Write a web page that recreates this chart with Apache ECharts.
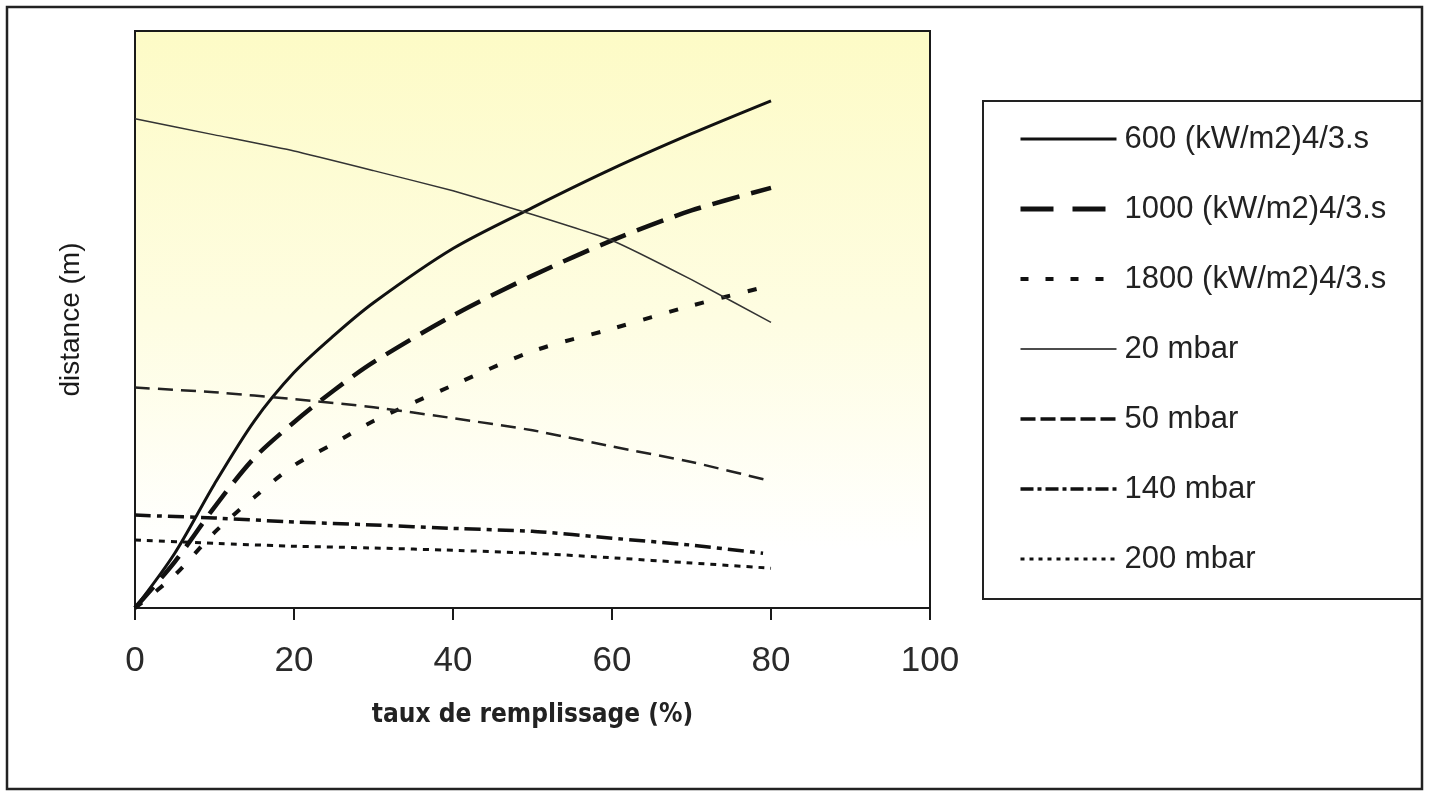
<!DOCTYPE html>
<html>
<head>
<meta charset="utf-8">
<script src="https://cdn.jsdelivr.net/npm/echarts@6/dist/echarts.min.js"></script>
<style>
html,body{margin:0;padding:0;background:#fff;}
#chart{width:1429px;height:792px;}
</style>
</head>
<body>
<div id="chart"></div>
<script>
// ---- data ----
const xRise = [0, 5, 10, 15, 20, 25, 30, 40, 50, 60, 70, 80];
const s600  = [0, 9.5, 21.5, 32.4, 40.8, 47.2, 52.9, 62.3, 69.4, 76.1, 82.2, 87.9];
const s1000 = [0, 8.0, 17.5, 26.0, 32.2, 37.7, 42.6, 50.7, 57.6, 63.7, 68.9, 72.8];
const s1800 = [0, 5.7, 13.1, 19.2, 24.7, 28.5, 32.4, 38.6, 44.5, 48.4, 52.4, 55.9];

const xPress = [0, 10, 20, 30, 40, 50, 60, 70, 80];
const p20  = [84.8, 82.0, 79.2, 75.8, 72.3, 68.2, 63.7, 56.9, 49.5];
const p50  = [38.2, 37.4, 36.2, 34.8, 32.9, 30.8, 28.0, 25.3, 22.0];
const x140 = [0, 10, 20, 30, 40, 50, 60, 70, 79];
const p140 = [16.1, 15.6, 14.9, 14.4, 13.8, 13.3, 12.1, 10.9, 9.5];
const p200 = [11.8, 11.2, 10.7, 10.4, 10.0, 9.5, 8.7, 7.8, 6.9];

const seriesNames = ['600 (kW/m2)4/3.s', '1000 (kW/m2)4/3.s', '1800 (kW/m2)4/3.s',
                     '20 mbar', '50 mbar', '140 mbar', '200 mbar'];
const xTicks = [0, 20, 40, 60, 80, 100];

function pairs(xs, ys) { return xs.map((x, i) => [x, ys[i]]); }

const chart = echarts.init(document.getElementById('chart'));
const FONT = '"Liberation Sans", Arial, sans-serif';
const NARROW = '"Liberation Sans Narrow", "DejaVu Sans Condensed", "Liberation Sans", sans-serif';

function mk(name, xs, ys, width, type, color, smooth) {
  return {
    name: name, type: 'line', data: pairs(xs, ys), showSymbol: false, symbol: 'none',
    smooth: smooth, silent: true, animation: false,
    lineStyle: { color: color, width: width, type: type, cap: 'butt' },
    itemStyle: { color: color }
  };
}

// legend key styles (as drawn in the key box)
const legendStyles = [
  { width: 3, type: 'solid' },
  { width: 5, type: [33, 19] },
  { width: 4, type: [8, 17] },
  { width: 1.5, type: 'solid' },
  { width: 3.5, type: [15, 5] },
  { width: 3.5, type: [13, 4, 4, 4] },
  { width: 3, type: [4, 5] }
];

chart.setOption({
  backgroundColor: '#ffffff',
  animation: false,
  grid: {
    left: 135, top: 31, right: 499, bottom: 184,
    show: true, borderColor: '#1a1a1a', borderWidth: 2,
    backgroundColor: {
      type: 'linear', x: 0, y: 0, x2: 0, y2: 1,
      colorStops: [
        { offset: 0, color: '#fdfbc6' },
        { offset: 0.5, color: '#fefde2' },
        { offset: 0.9, color: '#ffffff' },
        { offset: 1, color: '#ffffff' }
      ]
    }
  },
  xAxis: {
    type: 'value', min: 0, max: 100, interval: 20,
    axisLine: { show: true, lineStyle: { color: '#1a1a1a', width: 2 } },
    axisTick: { show: true, inside: false, length: 12, lineStyle: { color: '#1a1a1a', width: 2 } },
    splitLine: { show: false },
    axisLabel: {
      margin: 36, fontSize: 35, color: '#2a2a2a', fontFamily: FONT,
      formatter: v => (xTicks.indexOf(v) >= 0 ? String(v) : '')
    },
    name: 'taux de remplissage (%)',
    nameLocation: 'middle', nameGap: 94,
    nameTextStyle: { fontSize: 26, fontWeight: 'bold', color: '#222', fontFamily: NARROW }
  },
  yAxis: {
    type: 'value', min: 0, max: 100,
    axisLine: { show: true, lineStyle: { color: '#1a1a1a', width: 2 } },
    axisTick: { show: false }, axisLabel: { show: false }, splitLine: { show: false },
    name: 'distance (m)', nameLocation: 'middle', nameGap: 50,
    nameTextStyle: { fontSize: 28, color: '#1a1a1a', fontFamily: FONT }
  },
  legend: {
    orient: 'vertical', left: 1013, top: 118,
    itemWidth: 96, itemHeight: 14, itemGap: 38,
    selectedMode: false,
    itemStyle: { opacity: 0 },
    data: seriesNames.map((n, i) => ({
      name: n,
      lineStyle: { color: '#111', width: legendStyles[i].width, type: legendStyles[i].type, cap: 'butt' }
    })),
    textStyle: { fontSize: 31, lineHeight: 32, color: '#222', fontFamily: FONT, padding: [0, 0, 0, 3] }
  },
  graphic: [
    { type: 'rect', shape: { x: 7, y: 7, width: 1415, height: 782 }, silent: true,
      style: { fill: 'none', stroke: '#222', lineWidth: 2.5 }, z: -1 },
    { type: 'rect', shape: { x: 983, y: 101, width: 439, height: 498 }, silent: true,
      style: { fill: 'none', stroke: '#222', lineWidth: 2 }, z: -1 }
  ],
  series: [
    mk(seriesNames[0], xRise, s600, 3, 'solid', '#111', 0.3),
    mk(seriesNames[1], xRise, s1000, 4.5, [28, 12], '#111', 0.3),
    mk(seriesNames[2], xRise, s1800, 4, [9, 18], '#111', 0.3),
    mk(seriesNames[3], xPress, p20, 1.5, 'solid', '#333', 0.15),
    mk(seriesNames[4], xPress, p50, 2.5, [15, 8], '#222', 0.15),
    mk(seriesNames[5], x140, p140, 3.5, [16, 6, 5, 6], '#111', 0.15),
    mk(seriesNames[6], xPress, p200, 3, [6, 6], '#111', 0.15)
  ]
});
</script>
</body>
</html>
